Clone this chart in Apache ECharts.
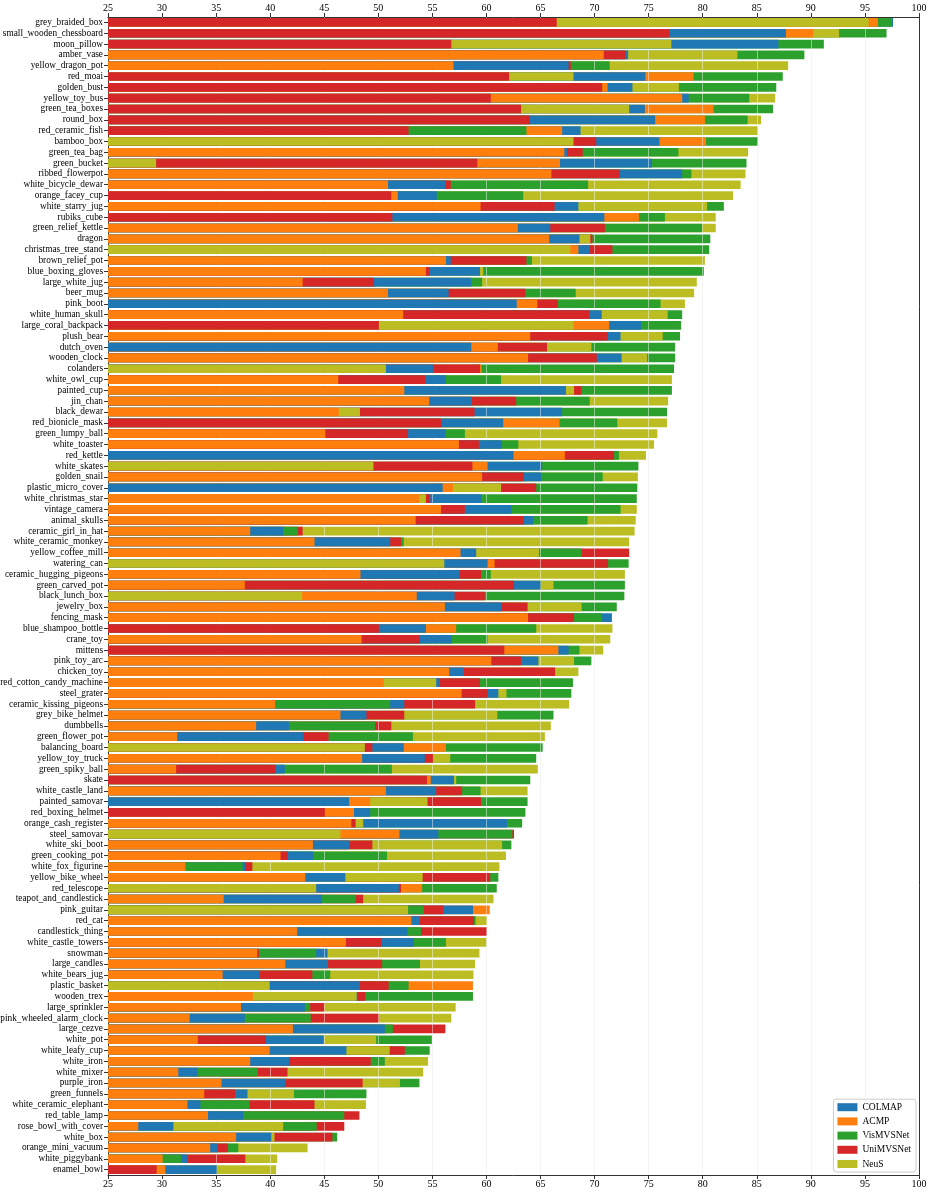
<!DOCTYPE html>
<html>
<head>
<meta charset="utf-8">
<script src="https://cdn.jsdelivr.net/npm/echarts@6/dist/echarts.min.js"></script>
<style>
html,body{margin:0;padding:0;background:#fff;}
#chart{width:929px;height:1192px;}
</style>
</head>
<body>
<div id="chart"></div>
<script>
const categories = ["grey_braided_box","small_wooden_chessboard","moon_pillow","amber_vase","yellow_dragon_pot","red_moai","golden_bust","yellow_toy_bus","green_tea_boxes","round_box","red_ceramic_fish","bamboo_box","green_tea_bag","green_bucket","ribbed_flowerpot","white_bicycle_dewar","orange_facey_cup","white_starry_jug","rubiks_cube","green_relief_kettle","dragon","christmas_tree_stand","brown_relief_pot","blue_boxing_gloves","large_white_jug","beer_mug","pink_boot","white_human_skull","large_coral_backpack","plush_bear","dutch_oven","wooden_clock","colanders","white_owl_cup","painted_cup","jin_chan","black_dewar","red_bionicle_mask","green_lumpy_ball","white_toaster","red_kettle","white_skates","golden_snail","plastic_micro_cover","white_christmas_star","vintage_camera","animal_skulls","ceramic_girl_in_hat","white_ceramic_monkey","yellow_coffee_mill","watering_can","ceramic_hugging_pigeons","green_carved_pot","black_lunch_box","jewelry_box","fencing_mask","blue_shampoo_bottle","crane_toy","mittens","pink_toy_arc","chicken_toy","red_cotton_candy_machine","steel_grater","ceramic_kissing_pigeons","grey_bike_helmet","dumbbells","green_flower_pot","balancing_board","yellow_toy_truck","green_spiky_ball","skate","white_castle_land","painted_samovar","red_boxing_helmet","orange_cash_register","steel_samovar","white_ski_boot","green_cooking_pot","white_fox_figurine","yellow_bike_wheel","red_telescope","teapot_and_candlestick","pink_guitar","red_cat","candlestick_thing","white_castle_towers","snowman","large_candles","white_bears_jug","plastic_basket","wooden_trex","large_sprinkler","pink_wheeled_alarm_clock","large_cezve","white_pot","white_leafy_cup","white_iron","white_mixer","purple_iron","green_funnels","white_ceramic_elephant","red_table_lamp","rose_bowl_with_cover","white_box","orange_mini_vacuum","white_piggybank","enamel_bowl"];

const COLMAP = [97.6,87.7,87.0,73.1,67.6,74.7,73.5,78.7,74.65,75.6,68.7,76.0,67.45,75.3,78.1,56.2,55.4,68.5,70.9,65.9,68.6,69.55,56.7,59.4,58.6,56.5,62.8,70.65,74.3,72.4,58.6,72.5,55.05,56.25,67.35,58.65,67.0,61.55,56.2,61.4,62.5,65.15,65.05,55.95,59.55,62.3,64.3,41.2,51.1,59.05,60.1,57.5,65.0,57.05,61.35,71.6,54.4,56.8,67.6,64.8,57.9,55.7,61.1,52.4,48.9,41.75,43.05,52.35,54.3,41.35,57.0,55.35,47.3,49.25,61.9,55.55,47.3,43.95,37.7,46.95,51.9,44.8,58.75,53.85,52.7,53.3,45.3,45.35,39.05,48.3,48.1,43.2,37.65,50.6,44.95,47.05,41.75,33.3,41.4,37.9,33.55,37.5,31.05,40.1,35.15,32.35,35.05];
const ACMP = [96.2,90.2,null,70.85,56.95,79.15,71.2,78.1,81.0,80.2,67.0,80.3,67.2,66.8,66.0,50.9,51.8,59.45,74.1,62.9,65.8,68.5,56.25,54.4,43.0,50.9,64.7,52.3,71.35,64.05,61.05,63.85,59.55,46.3,52.4,54.7,46.35,66.75,45.1,57.45,67.25,60.1,59.6,56.9,53.8,55.8,53.45,38.15,44.1,57.6,60.75,48.35,37.65,53.55,56.15,63.85,57.2,48.45,66.65,60.45,56.55,50.5,57.7,40.45,46.5,38.7,31.4,56.25,48.5,31.3,54.85,50.7,49.25,47.75,47.5,51.95,43.95,40.95,32.15,43.25,54.05,35.7,60.3,53.05,42.5,47.0,38.8,41.4,35.6,58.75,38.4,37.3,32.55,42.1,33.3,39.95,38.15,31.5,35.5,33.9,32.35,34.25,27.8,36.85,34.45,30.05,30.3];
const VisMVSNet = [97.5,97.0,91.2,89.4,71.4,87.4,86.8,84.3,86.5,84.15,63.7,85.1,77.75,84.05,78.95,69.4,63.4,81.95,76.5,79.95,80.7,80.6,64.2,80.1,59.6,68.25,76.1,78.1,78.0,77.9,77.45,77.45,77.35,61.35,77.15,69.55,76.7,72.1,58.0,62.95,72.25,74.05,70.75,73.95,73.9,72.4,69.35,42.55,52.35,68.8,73.15,60.4,72.8,72.75,72.05,70.7,64.6,60.1,68.6,69.7,null,68.0,67.85,51.1,66.2,49.7,53.2,65.2,64.6,51.25,64.05,59.45,63.8,63.6,63.3,62.4,62.3,50.8,37.45,61.1,60.95,47.9,54.2,59.0,53.95,56.25,44.25,53.85,45.55,52.8,58.75,43.7,43.75,51.35,54.95,54.75,50.6,38.85,53.8,48.9,38.1,46.85,44.3,46.2,37.05,31.75,null];
const UniMVSNet = [66.5,76.9,56.75,72.85,67.8,62.1,70.7,60.4,63.2,64.0,52.8,70.15,68.9,59.15,72.35,56.7,51.2,66.3,51.3,70.95,69.8,71.65,63.7,54.75,49.6,63.6,66.6,69.5,50.05,71.2,65.6,70.2,59.4,54.35,68.8,62.75,58.9,55.8,52.75,59.3,71.8,58.7,63.45,64.6,54.8,58.0,63.45,43.0,52.1,73.2,71.25,59.5,62.55,59.85,63.8,68.1,50.05,53.85,61.65,63.2,66.35,59.4,60.1,58.95,52.4,51.2,45.4,49.45,55.05,40.5,54.5,57.75,59.5,45.05,47.9,62.55,49.45,41.65,38.35,60.35,52.1,48.6,56.0,58.85,60.05,50.25,38.95,50.35,43.9,50.95,48.8,45.0,50.05,56.2,39.6,52.45,49.3,41.6,48.55,36.75,44.1,48.25,46.85,45.75,36.1,37.7,29.5];
const NeuS = [95.35,92.6,77.1,83.2,87.9,68.05,77.8,86.7,73.2,85.4,85.1,68.05,84.2,29.45,83.95,83.5,82.8,80.4,81.2,81.2,69.6,67.75,80.2,59.7,79.45,79.2,78.35,76.75,68.05,76.3,69.7,74.85,50.7,77.15,68.1,76.8,48.3,76.7,75.8,75.5,74.75,49.55,74.0,61.35,54.4,73.9,73.8,73.7,73.2,64.85,56.1,72.8,66.2,42.95,68.8,null,71.65,71.45,70.8,68.1,68.5,55.35,61.85,67.65,61.0,65.95,65.4,48.75,56.65,64.75,57.2,63.8,54.55,null,48.6,46.5,61.45,61.8,61.2,54.1,44.25,60.65,52.75,60.05,null,60.0,59.35,58.95,58.8,39.95,48.0,57.15,56.75,null,49.8,51.05,54.6,54.15,52.0,42.2,48.85,null,41.2,40.4,43.45,40.65,40.55];

const methods = ["COLMAP", "ACMP", "VisMVSNet", "UniMVSNet", "NeuS"];
const xTicks = [25,30,35,40,45,50,55,60,65,70,75,80,85,90,95,100];

const colors = ["#1f77b4", "#ff7f0e", "#2ca02c", "#d62728", "#bcbd22"];
const serif = "Liberation Serif";
const allValues = [COLMAP, ACMP, VisMVSNet, UniMVSNet, NeuS];

// For each category, order methods by value; larger bars drawn underneath smaller ones
const rankData = [[], [], [], [], []];
categories.forEach((c, i) => {
  const vals = allValues.map((arr, m) => ({ v: arr[i], m }))
    .filter(d => d.v !== null && d.v !== undefined)
    .sort((a, b) => a.v - b.v);
  for (let k = 0; k < 5; k++) {
    if (vals[k]) {
      rankData[k].push({ value: vals[k].v, name: c, itemStyle: { color: colors[vals[k].m] } });
    } else {
      rankData[k].push('-');
    }
  }
});

const series = [];
for (let k = 4; k >= 0; k--) {
  series.push({
    type: 'bar',
    name: 'rank' + k,
    data: rankData[k],
    barWidth: '80%',
    barGap: '-100%',
    z: 3 + (4 - k),
    silent: true
  });
}
methods.forEach((m, i) => {
  series.push({
    type: 'line',
    name: m,
    data: [],
    itemStyle: { color: colors[i] },
    lineStyle: { color: colors[i] }
  });
});
series.push({
  type: 'line',
  name: 'grid-overlay',
  data: [],
  z: 20,
  markLine: {
    silent: true,
    symbol: ['none', 'none'],
    label: { show: false },
    lineStyle: { color: '#ffffff', width: 1, type: 'solid', opacity: 0.45 },
    data: xTicks.slice(1, -1).map(v => ({ xAxis: v }))
  }
});

const axisLabelX = { fontFamily: serif, fontSize: 10, color: '#000', margin: 4 };
const chart = echarts.init(document.getElementById('chart'));
chart.setOption({
  animation: false,
  backgroundColor: '#fff',
  grid: { left: 108, right: 10, top: 17, bottom: 17, containLabel: false, outerBoundsMode: 'none' },
  legend: {
    data: methods,
    orient: 'vertical',
    right: 13,
    bottom: 20,
    icon: 'rect',
    itemWidth: 20,
    itemHeight: 8,
    itemGap: 2.2,
    padding: [2, 5, 2, 4],
    borderColor: '#cccccc',
    borderWidth: 1,
    borderRadius: 3,
    backgroundColor: 'rgba(255,255,255,0.8)',
    textStyle: { fontFamily: serif, fontSize: 9.5, color: '#000', lineHeight: 12 }
  },
  xAxis: [
    {
      type: 'value', min: 25, max: 100, interval: 5, position: 'bottom',
      axisLine: { show: true, lineStyle: { color: '#333', width: 1 } },
      axisTick: { show: true, length: 4, lineStyle: { color: '#333' } },
      axisLabel: axisLabelX,
      splitLine: { show: true, lineStyle: { color: '#ebebeb', width: 1 } }
    },
    {
      type: 'value', min: 25, max: 100, interval: 5, position: 'top',
      axisLine: { show: true, lineStyle: { color: '#333', width: 1 } },
      axisTick: { show: true, length: 4, lineStyle: { color: '#333' } },
      axisLabel: axisLabelX,
      splitLine: { show: false }
    }
  ],
  yAxis: [
    {
      type: 'category', data: categories, inverse: true,
      axisLine: { show: true, lineStyle: { color: '#333', width: 1 } },
      axisTick: { show: true, alignWithLabel: true, length: 4, lineStyle: { color: '#333' } },
      axisLabel: { fontFamily: serif, fontSize: 9.3, color: '#000', margin: 5, interval: 0 }
    },
    {
      type: 'category', data: categories, inverse: true, position: 'right',
      axisLine: { show: true, lineStyle: { color: '#333', width: 1 } },
      axisTick: { show: false },
      axisLabel: { show: false }
    }
  ],
  series: series
});
</script>
</body>
</html>
